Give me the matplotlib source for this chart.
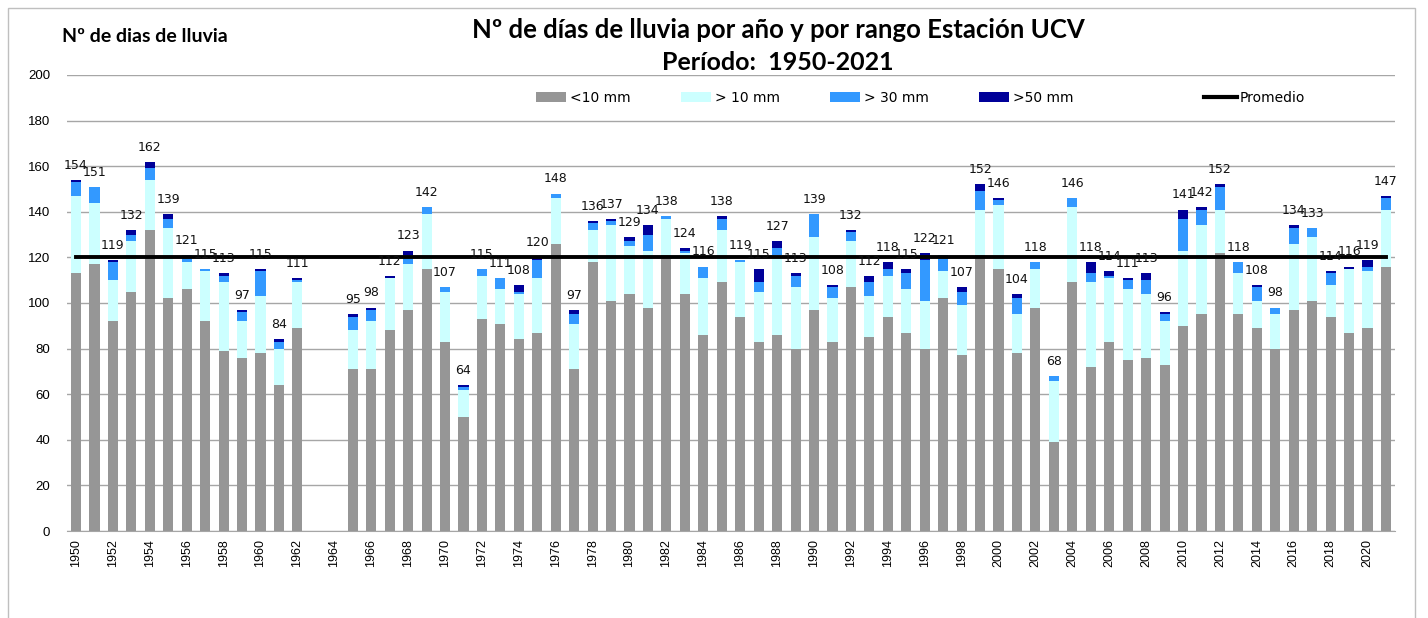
import numpy as np
import matplotlib.pyplot as plt
from matplotlib.patches import Patch, Rectangle
from matplotlib.lines import Line2D

plt.rcParams['font.family'] = ['Lato', 'DejaVu Sans']

nan = np.nan
years = list(range(1950, 2022))

# dias de lluvia por rango (1963 y 1964 sin datos)
menos10 = [113, 117, 92, 105, 132, 102, 106, 92, 79, 76, 78, 64, 89, nan, nan,
           71, 71, 88, 97, 115, 83, 50, 93, 91, 84, 87, 126, 71, 118, 101, 104,
           98, 121, 104, 86, 109, 94, 83, 86, 80, 97, 83, 107, 85, 94, 87, 80,
           102, 77, 121, 115, 78, 98, 39, 109, 72, 83, 75, 76, 73, 90, 95, 122,
           95, 89, 80, 97, 101, 94, 87, 89, 116]
mas10 = [34, 27, 18, 22, 22, 31, 12, 22, 30, 16, 25, 16, 20, nan, nan,
         17, 21, 23, 20, 24, 22, 12, 19, 15, 20, 24, 20, 20, 14, 33, 21,
         25, 16, 18, 25, 23, 24, 22, 35, 27, 32, 19, 20, 18, 18, 19, 21,
         12, 22, 20, 28, 17, 17, 27, 33, 37, 28, 31, 28, 19, 33, 39, 19,
         18, 12, 15, 29, 28, 14, 28, 25, 25]
mas30 = [6, 7, 8, 3, 5, 4, 3, 1, 3, 4, 11, 3, 1, nan, nan,
         6, 5, 0, 4, 3, 2, 1, 3, 5, 1, 8, 2, 4, 3, 2, 2,
         7, 1, 1, 5, 5, 1, 4, 3, 5, 10, 5, 4, 6, 3, 7, 18,
         7, 6, 8, 2, 7, 3, 2, 4, 4, 1, 4, 6, 3, 14, 7, 10,
         5, 6, 3, 7, 4, 5, 0, 2, 5]
mas50 = [1, 0, 1, 2, 3, 2, 0, 0, 1, 1, 1, 1, 1, nan, nan,
         1, 1, 1, 2, 0, 0, 1, 0, 0, 3, 1, 0, 2, 1, 1, 2,
         4, 0, 1, 0, 1, 0, 6, 3, 1, 0, 1, 1, 3, 3, 2, 3,
         0, 2, 3, 1, 2, 0, 0, 0, 5, 2, 1, 3, 1, 4, 1, 1,
         0, 1, 0, 1, 0, 1, 1, 3, 1]
promedio = 120

series = [menos10, mas10, mas30, mas50]
nombres = ['<10 mm', '> 10 mm', '> 30 mm', '>50 mm']
colores = ['#969696', '#CCFFFF', '#3399FF', '#000099']

fig = plt.figure(figsize=(14.28, 6.18), dpi=100)
ax = fig.add_axes([66.8 / 1428, 1 - 531 / 618, (1395.2 - 66.8) / 1428, (531 - 75) / 618])

x = np.arange(len(years))
base = np.zeros(len(years))
for vals, col in zip(series, colores):
    v = np.array(vals, dtype=float)
    ax.bar(x, v, 0.55, bottom=base, color=col, zorder=2)
    base = base + v

ax.plot(x, [promedio] * len(x), color='black', lw=2.8, zorder=4)

for xi, tot in zip(x, base):
    if not np.isnan(tot):
        ax.annotate(f'{int(tot)}', (xi, tot), xytext=(0, 8), textcoords='offset points',
                    ha='center', va='baseline', fontsize=9, color='#111111', zorder=5,
                    family='DejaVu Sans')

ax.set_xlim(-0.5, len(years) - 0.5)
ax.set_ylim(0, 200)
ax.set_yticks(range(0, 201, 20))
ax.yaxis.grid(True, color='#A6A6A6', lw=1)
ax.set_axisbelow(True)
ax.set_xticks(x[::2])
ax.set_xticklabels([str(y) for y in years[::2]], rotation=90, fontsize=9,
                   family=['Liberation Sans', 'DejaVu Sans'])
ax.tick_params(axis='x', length=0, pad=6)
ax.tick_params(axis='y', length=0, pad=12, labelsize=9.5)
for lab in ax.get_yticklabels():
    lab.set_family(['Liberation Sans', 'DejaVu Sans'])
for s in ['top', 'right', 'left']:
    ax.spines[s].set_visible(False)
ax.spines['bottom'].set_color('#A6A6A6')

fig.text(778 / 1428, 1 - 30 / 618, 'Nº de días de lluvia por año y por rango Estación UCV',
         ha='center', va='center', fontsize=18.5, fontweight='bold')
fig.text(778 / 1428, 1 - 63 / 618, 'Período:  1950-2021',
         ha='center', va='center', fontsize=18, fontweight='bold')
fig.text(62 / 1428, 1 - 37 / 618, 'Nº de dias de lluvia',
         ha='left', va='center', fontsize=14, fontweight='bold')

handles = [Patch(facecolor=c, label=n) for c, n in zip(colores, nombres)]
fig.legend(handles=handles, loc='center left', bbox_to_anchor=(536 / 1428, 1 - 98 / 618),
           bbox_transform=fig.transFigure, ncol=4, frameon=False,
           prop={'family': 'DejaVu Sans', 'size': 10},
           handlelength=2.16, handleheight=0.79, handletextpad=0.3,
           columnspacing=3.6, borderpad=0, borderaxespad=0)
fig.legend(handles=[Line2D([0], [0], color='black', lw=3, label='Promedio')],
           loc='center left', bbox_to_anchor=(1204 / 1428, 1 - 98 / 618),
           bbox_transform=fig.transFigure, frameon=False,
           prop={'family': 'DejaVu Sans', 'size': 10},
           handlelength=2.37, handletextpad=0.2, borderpad=0, borderaxespad=0)

fig.add_artist(Rectangle((8 / 1428, -0.05), (1415 - 8) / 1428, 1.05 - 8 / 618,
                         transform=fig.transFigure, fill=False, ec='#BFBFBF', lw=1))

fig.savefig('out.png', dpi=100)
